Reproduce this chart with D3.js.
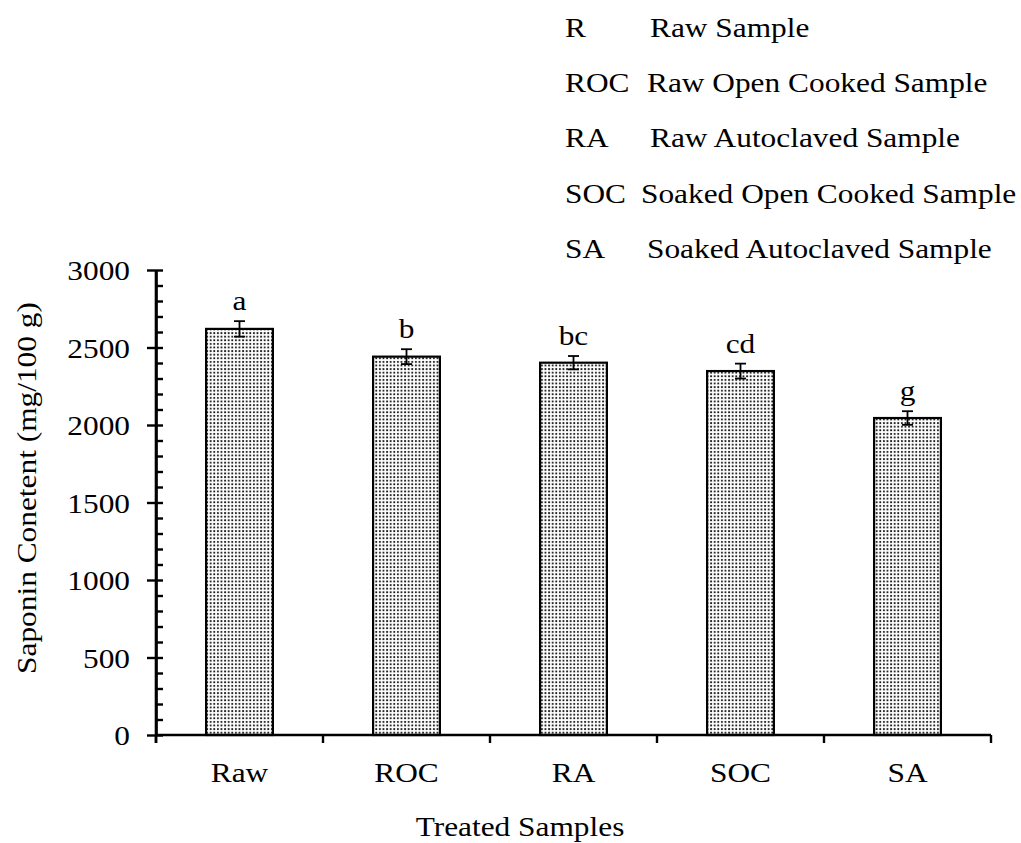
<!DOCTYPE html>
<html>
<head>
<meta charset="utf-8">
<script src="https://cdn.jsdelivr.net/npm/d3@7"></script>
<style>
  html, body { margin: 0; padding: 0; background: #fff; }
  text { font-family: "Liberation Serif", "Times New Roman", serif; fill: #000; }
</style>
</head>
<body>
<div id="chart"></div>
<script>
// data
const categories = ["Raw", "ROC", "RA", "SOC", "SA"];
const values = [2620, 2441, 2402, 2348, 2045];
const errors = [50, 48, 43, 48, 44];
const letters = ["a", "b", "bc", "cd", "g"];
const yTicks = [0, 500, 1000, 1500, 2000, 2500, 3000];
const legendCodes = ["R", "ROC", "RA", "SOC", "SA"];
const legendNames = ["Raw Sample", "Raw Open Cooked Sample", "Raw Autoclaved Sample",
  "Soaked Open Cooked Sample", "Soaked Autoclaved Sample"];

const W = 1021, H = 843;
const FS = 28;      // font size
const SX = 1.12;    // text is a bit wider than plain Times

const svg = d3.select("#chart").append("svg")
  .attr("width", W).attr("height", H);

// dotted fill
const defs = svg.append("defs");
const pat = defs.append("pattern")
  .attr("id", "dots")
  .attr("patternUnits", "userSpaceOnUse")
  .attr("width", 3.6).attr("height", 3.6);
pat.append("rect").attr("width", 3.6).attr("height", 3.6).attr("fill", "#fff");
pat.append("rect").attr("x", 1).attr("y", 1).attr("width", 1.8).attr("height", 1.8).attr("fill", "#111");

const plotL = 156, plotR = 991, plotT = 270, plotB = 735;

const x = d3.scaleBand().domain(categories).range([plotL, plotR]).paddingInner(0.6).paddingOuter(0.3);
const xBand = d3.scaleBand().domain(categories).range([plotL, plotR]);
const y = d3.scaleLinear().domain([0, 3000]).range([plotB, plotT]);

// stretched text helper
function txt(g, s, tx, ty, anchor, rot) {
  return g.append("text")
    .attr("transform", `translate(${tx},${ty})` + (rot ? ` rotate(${rot})` : "") + ` scale(${SX},1)`)
    .attr("text-anchor", anchor || "start")
    .attr("font-size", FS)
    .text(s);
}

// bars
svg.append("g").selectAll("rect")
  .data(values)
  .join("rect")
  .attr("x", (d, i) => x(categories[i]))
  .attr("y", d => y(d))
  .attr("width", x.bandwidth())
  .attr("height", d => y(0) - y(d))
  .attr("fill", "url(#dots)")
  .attr("stroke", "#000")
  .attr("stroke-width", 2.2);

// error bars
const eb = svg.append("g").attr("stroke", "#000").attr("stroke-width", 1.8);
values.forEach((v, i) => {
  const cx = x(categories[i]) + x.bandwidth() / 2;
  eb.append("line").attr("x1", cx).attr("x2", cx).attr("y1", y(v - errors[i])).attr("y2", y(v + errors[i]));
  [v - errors[i], v + errors[i]].forEach(e => {
    eb.append("line").attr("x1", cx - 5.5).attr("x2", cx + 5.5).attr("y1", y(e)).attr("y2", y(e));
  });
});

// significance letters
const lg = svg.append("g");
values.forEach((v, i) => {
  const cx = x(categories[i]) + x.bandwidth() / 2;
  txt(lg, letters[i], cx, y(v + errors[i]) - 11, "middle");
});

// y axis: major ticks cross the line, minor ticks inside every 100
const minor = d3.range(0, 3001, 100);
const yl = svg.append("g").attr("transform", `translate(${plotL},0)`)
  .call(d3.axisLeft(y).tickValues(yTicks).tickSize(9).tickFormat("").tickSizeOuter(0));
const yr = svg.append("g").attr("transform", `translate(${plotL},0)`)
  .call(d3.axisRight(y).tickValues(minor).tickSize(7).tickFormat("").tickSizeOuter(0));
[yl, yr].forEach(g => {
  g.selectAll("path").attr("stroke", "#000").attr("stroke-width", 2.6);
  g.selectAll("line").attr("stroke", "#000").attr("stroke-width", 2.4);
});
yl.select("path").attr("d", `M0,${plotT}V${plotB + 8}`);

const yLab = svg.append("g");
yTicks.forEach(t => txt(yLab, String(t), 130, y(t) + 10, "end"));

// x axis
const xa = svg.append("g").attr("transform", `translate(0,${plotB})`)
  .call(d3.axisBottom(xBand).tickSize(0).tickFormat("").tickSizeOuter(0));
xa.select("path").attr("stroke", "#000").attr("stroke-width", 2.6).attr("d", `M${plotL},0H${plotR}`);
xa.selectAll(".tick").remove();
const edges = categories.map(c => xBand(c)).concat([plotR]);
svg.append("g").selectAll("line")
  .data(edges)
  .join("line")
  .attr("x1", d => d).attr("x2", d => d)
  .attr("y1", plotB).attr("y2", plotB + 8)
  .attr("stroke", "#000").attr("stroke-width", 2.4);

const xLab = svg.append("g");
categories.forEach(c => txt(xLab, c, xBand(c) + xBand.bandwidth() / 2, 782, "middle"));

// axis titles
txt(svg, "Treated Samples", 520, 836, "middle");
txt(svg, "Saponin Conetent (mg/100 g)", 36, 488, "middle", -90);

// legend of abbreviations
const legX = [650, 647, 650, 641, 647];
const leg = svg.append("g");
legendCodes.forEach((c, i) => {
  const by = 37 + i * 55.2;
  txt(leg, c, 565, by);
  txt(leg, legendNames[i], legX[i], by);
});
</script>
</body>
</html>
